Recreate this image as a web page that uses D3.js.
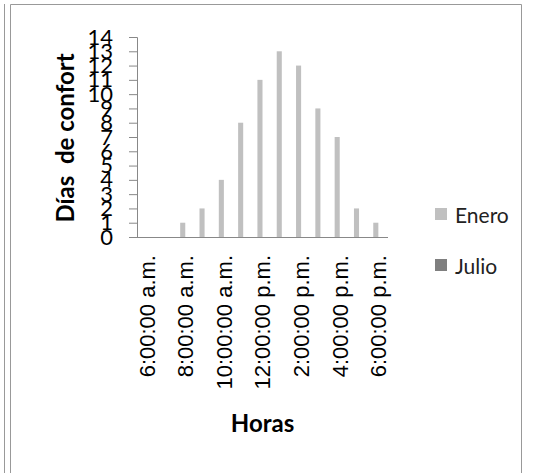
<!DOCTYPE html>
<html><head><meta charset="utf-8">
<script src="https://cdn.jsdelivr.net/npm/d3@7"></script>
<style>body{margin:0;background:#fff}svg{display:block}</style>
</head><body>
<script>
const categories = ["6:00:00 a.m.","7:00:00 a.m.","8:00:00 a.m.","9:00:00 a.m.","10:00:00 a.m.","11:00:00 a.m.","12:00:00 p.m.","1:00:00 p.m.","2:00:00 p.m.","3:00:00 p.m.","4:00:00 p.m.","5:00:00 p.m.","6:00:00 p.m."];
const enero = [0,0,1,2,4,8,11,13,12,9,7,2,1];
const julio = [0,0,0,0,0,0,0,0,0,0,0,0,0];
const seriesNames = ["Enero","Julio"];
const seriesColors = ["#c0c0c0","#7f7f7f"];
const yTicks = d3.range(0,15);

(function(){
const W=550,H=473;
const svg=d3.select("body").append("svg").attr("width",W).attr("height",H);

// frame
svg.append("line").attr("x1",4.5).attr("x2",4.5).attr("y1",4).attr("y2",H).attr("stroke","#999");
svg.append("path").attr("d",`M10.5,${H} V4.5 H521.5 V${H}`).attr("fill","none").attr("stroke","#999");

const pl=137,pr=388,pt=37,pb=237;
const x=d3.scaleBand().domain(categories).range([pl,pr]);
const y=d3.scaleLinear().domain([0,14]).range([pb,pt]);
const bw=x.bandwidth()/3.8;

[enero,julio].forEach((vals,si)=>{
  svg.append("g").selectAll("rect").data(vals).join("rect")
    .attr("x",(d,i)=>x(categories[i])+x.bandwidth()/2-bw+si*bw)
    .attr("width",bw)
    .attr("y",d=>y(d))
    .attr("height",d=>y(0)-y(d))
    .attr("fill",seriesColors[si]);
});

// y axis
const yAx=svg.append("g").attr("transform",`translate(${pl},0)`)
  .call(d3.axisLeft(y).tickValues(yTicks).tickSize(8).tickPadding(16).tickFormat(d3.format("d")));
yAx.select(".domain").attr("stroke","#888").attr("d",`M-8,${pt+0.5}H0.5V${pb+0.5}`);
yAx.selectAll(".tick line").attr("stroke","#888");
yAx.selectAll("text").attr("font-family","Lato").attr("font-size",22).attr("fill","#000");

// x axis
const xAx=svg.append("g").attr("transform",`translate(0,${pb})`)
  .call(d3.axisBottom(x).tickSize(0).tickValues(categories.filter((c,i)=>i%2===0)));
xAx.select(".domain").attr("stroke","#888").attr("d",`M${pl},0.5H${pr}`);
xAx.selectAll("text").attr("font-family","Liberation Sans").attr("font-size",22).attr("fill","#000")
  .attr("transform","rotate(-90)").attr("text-anchor","end").attr("x",-18).attr("y",0).attr("dy","0.36em");

// titles
svg.append("text").attr("transform","translate(74,138) rotate(-90)").attr("text-anchor","middle")
  .attr("font-family","Lato").attr("font-weight","bold").attr("font-size",24).attr("fill","#000")
  .attr("xml:space","preserve").text("Días  de confort");
svg.append("text").attr("x",(pl+pr)/2).attr("y",432).attr("text-anchor","middle")
  .attr("font-family","Lato").attr("font-weight","bold").attr("font-size",24).attr("fill","#000").text("Horas");

// legend
const lg=svg.append("g");
seriesNames.forEach((n,i)=>{
  const yy=208+i*51;
  lg.append("rect").attr("x",435).attr("y",yy).attr("width",12).attr("height",12).attr("fill",seriesColors[i]);
  lg.append("text").attr("x",455).attr("y",yy+15).attr("font-family","Lato").attr("font-size",21).attr("fill","#222").text(n);
});
})();
</script>
</body></html>
